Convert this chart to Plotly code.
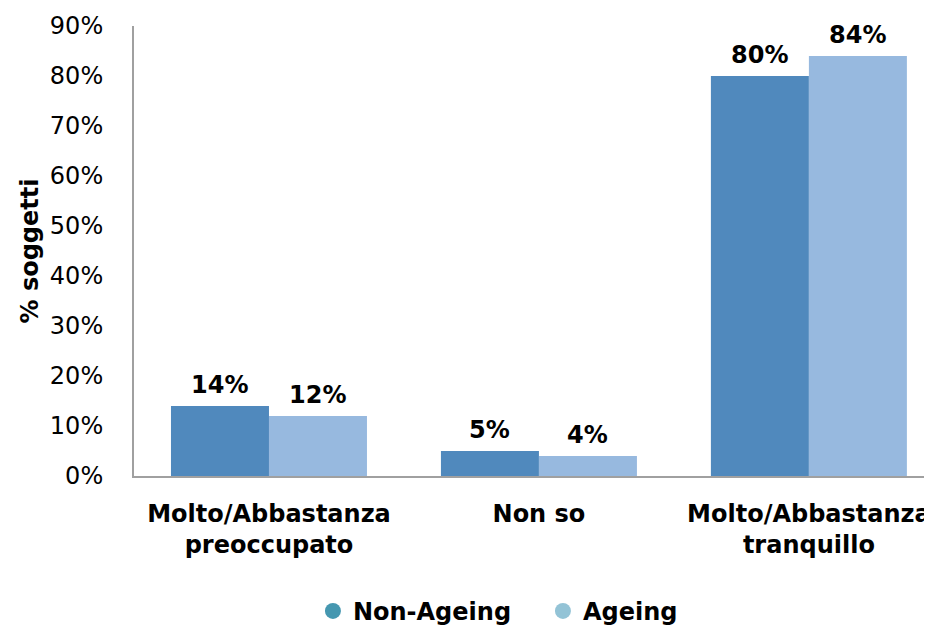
import plotly.graph_objects as go

categories = ["Molto/Abbastanza<br>preoccupato", "Non so", "Molto/Abbastanza<br>tranquillo"]
series_names = ["Non-Ageing", "Ageing"]
non_ageing = [0.14, 0.05, 0.80]
ageing = [0.12, 0.04, 0.84]
y_ticks = [0, 0.1, 0.2, 0.3, 0.4, 0.5, 0.6, 0.7, 0.8, 0.9]

bar_colors = ["#5089BD", "#97B9DF"]
legend_colors = ["#4597B0", "#93C3D6"]
FONT = "DejaVu Sans"
FS = 24

fig = go.Figure()
for name, vals, col in zip(series_names, [non_ageing, ageing], bar_colors):
    fig.add_trace(go.Bar(
        x=categories, y=vals, name=name, marker=dict(color=col, line=dict(width=0)),
        showlegend=False,
    ))
for name, col in zip(series_names, legend_colors):
    fig.add_trace(go.Scatter(
        x=[None], y=[None], mode="markers", name=name,
        marker=dict(symbol="circle", size=22, color=col),
    ))

# data labels above each bar
for vals, shift in zip([non_ageing, ageing], [-49, 49]):
    for cat, v in zip(categories, vals):
        fig.add_annotation(x=cat, y=v, text=f"{round(v*100)}%", showarrow=False,
                           xshift=shift, yshift=5, yanchor="bottom",
                           font=dict(family=FONT, size=FS, color="black", weight="bold"))

fig.update_layout(
    width=924, height=622,
    margin=dict(l=126, r=0, t=18, b=154),
    paper_bgcolor="white", plot_bgcolor="white",
    barmode="group", bargap=0.274, bargroupgap=0,
    font=dict(family=FONT, size=FS, color="black"),
    showlegend=True,
    legend=dict(orientation="h", xref="container", yref="container",
                x=0.33, xanchor="left", y=0.03, yanchor="middle",
                entrywidth=185, entrywidthmode="pixels",
                font=dict(family=FONT, size=FS, color="black", weight="bold"),
                itemsizing="trace"),
    xaxis=dict(range=[-0.5, 2.456], showline=True, linecolor="#A0A0A0", linewidth=2,
               ticks="", showgrid=False, automargin=False,
               tickfont=dict(family=FONT, size=FS, weight="bold"),
               ticklabelstandoff=15),
    yaxis=dict(range=[0, 0.9], tickvals=y_ticks, tickformat=".0%", showline=True,
               linecolor="#A0A0A0", linewidth=2, ticks="", showgrid=False, zeroline=False,
               automargin=False,
               tickfont=dict(family=FONT, size=FS), ticklabelstandoff=24,
               title=dict(text="% soggetti", font=dict(family=FONT, size=FS, weight="bold"),
                          standoff=4)),
)

fig.write_html("out.html")
